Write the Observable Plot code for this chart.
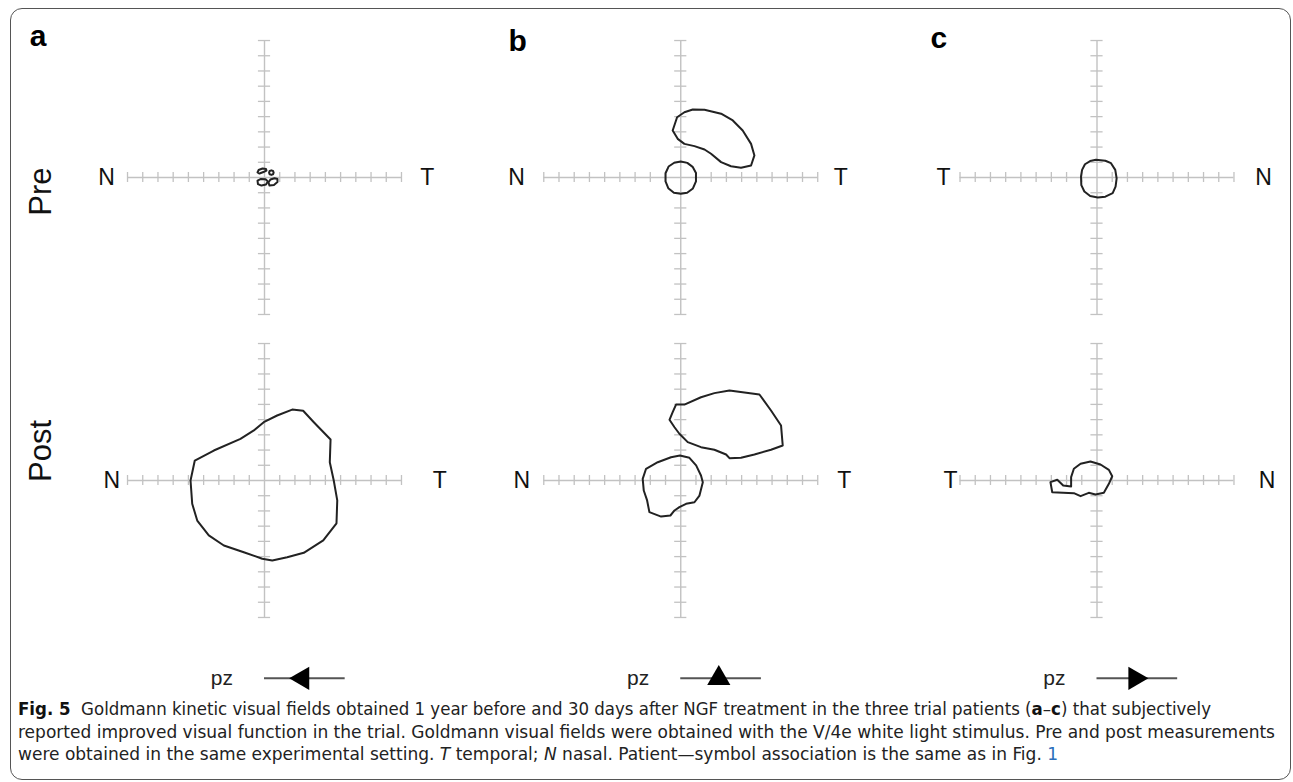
<!DOCTYPE html>
<html><head><meta charset="utf-8">
<script src="https://cdn.jsdelivr.net/npm/d3@7"></script>
<script src="https://cdn.jsdelivr.net/npm/@observablehq/plot@0.6"></script>
<style>
body{margin:0;background:#fff;}
#wrap{position:relative;width:1293px;height:782px;overflow:hidden;background:#fff;}
#frame{position:absolute;left:10px;top:8px;width:1281px;height:772px;border:1.5px solid #555;border-radius:12px;box-sizing:border-box;}
#chart{position:absolute;left:0;top:0;}
#caption{position:absolute;left:18px;top:698px;font-family:"Liberation Sans Narrow","DejaVu Sans Condensed","Roboto",sans-serif;font-size:17px;line-height:22.5px;color:#222;white-space:nowrap;}
#caption .ln{display:inline-block;transform-origin:0 50%;}
#caption b{font-weight:bold;color:#111;}
</style></head>
<body><div id="wrap"><div id="frame"></div><div id="chart"></div>
<div id="caption"><span class="ln" id="ln1"><b>Fig. 5</b>&nbsp; Goldmann kinetic visual fields obtained 1 year before and 30 days after NGF treatment in the three trial patients (<b>a</b>–<b>c</b>) that subjectively</span><br><span class="ln" id="ln2">reported improved visual function in the trial. Goldmann visual fields were obtained with the V/4e white light stimulus. Pre and post measurements</span><br><span class="ln" id="ln3">were obtained in the same experimental setting. <i>T</i> temporal; <i>N</i> nasal. Patient—symbol association is the same as in Fig. <span style="color:#2a6ebb">1</span></span></div>
</div>
<script>
// ---- data (degrees of visual field) ----
const panels = ["a", "b", "c"];
const rows = ["Pre", "Post"];
const sideLabels = {a: ["N", "T"], b: ["N", "T"], c: ["T", "N"]};
const symbolLabel = "pz";
const patientSymbolDir = {a: "left", b: "up", c: "right"};
const tickDegrees = [-90, -80, -70, -60, -50, -40, -30, -20, -10, 10, 20, 30, 40, 50, 60, 70, 80, 90];
const axisMin = -90, axisMax = 90;

// panel a, Pre: four tiny islands
const aPreIsland1 = [[-4.6,3.3],[-3.9,4.9],[-1.3,5.9],[1.0,5.6],[1.3,4.6],[-0.7,3.6],[-3.3,2.6]];
const aPreIsland2 = [[4.5,4.7],[5.6,4.3],[6.0,3.2],[5.6,2.1],[4.5,1.7],[3.4,2.1],[3.0,3.2],[3.4,4.3]];
const aPreIsland3 = [[-4.6,-2.0],[-2.6,-1.0],[0.7,-1.2],[2.2,-2.6],[1.0,-4.6],[-2.0,-5.3],[-4.3,-4.3]];
const aPreIsland4 = [[2.6,-3.3],[3.9,-1.3],[6.6,-0.5],[8.5,-1.0],[8.5,-3.0],[6.2,-4.9],[3.3,-5.3]];
// panel a, Post
const aPostField = [[-0.5,38.3],[8.3,42.7],[18.2,46.6],[25.4,45.8],[32.4,38.3],[43.4,26.9],[42.9,12.0],[45.5,0],[47.8,-13.1],[47.3,-28.1],[38.6,-39.4],[25.8,-47.5],[14.9,-50.4],[5.1,-52.6],[-1.5,-51.4],[-13.6,-47.1],[-26.7,-42.7],[-36.6,-36.1],[-44.2,-26.3],[-47.5,-15.3],[-48.6,0],[-45.8,13.1],[-33.3,19.7],[-15.8,27.4],[-7.0,32.9]];
// panel b, Pre
const bPreCentral = [[0,10.5],[4.3,9.6],[7.8,7.0],[10.0,3.0],[10.0,-2.5],[8.0,-7.2],[4.2,-10.0],[0,-10.7],[-4.5,-10.0],[-8.2,-7.0],[-10.0,-2.6],[-10.0,2.8],[-8.0,7.2],[-4.3,9.7]];
const bPreUpper = [[-5.3,30.9],[-2.4,39.6],[2.4,42.9],[7.9,44.7],[15.6,44.5],[26.5,41.9],[34.2,37.5],[40.7,30.9],[46.2,22.1],[48.4,14.5],[46.2,7.9],[39.6,6.4],[33.0,7.4],[26.5,10.1],[19.9,15.6],[15.6,18.4],[9.0,20.6],[2.4,22.1],[-2.0,25.4]];
// panel b, Post
const bPostUpper = [[-3.1,49.9],[2.4,49.9],[13.3,54.7],[22.1,57.4],[32.0,59.1],[51.7,56.5],[59.3,46.0],[65.9,36.1],[67.0,23.0],[59.3,20.2],[48.4,17.1],[39.6,14.9],[32.0,14.7],[29.8,17.1],[22.1,20.2],[13.3,21.9],[4.6,25.2],[-0.9,30.7],[-4.1,35.0],[-7.4,39.9],[-5.3,44.9]];
const bPostCentral = [[-0.5,16.4],[5.7,14.9],[10.1,9.9],[13.3,3.3],[14.5,-1.1],[12.3,-9.9],[9.0,-14.3],[3.5,-15.3],[-0.9,-17.5],[-4.1,-19.7],[-6.8,-23.0],[-12.9,-23.7],[-20.6,-20.8],[-22.1,-13.1],[-24.3,-6.6],[-25.0,1.1],[-22.8,7.7],[-15.1,12.0],[-6.4,15.3]];
// panel c, Pre
const cPreCentral = [[-0.7,11.6],[5.5,11.0],[9.2,9.4],[12.0,5.0],[12.9,-0.5],[12.2,-6.0],[10.3,-10.3],[5.5,-12.6],[0.5,-13.1],[-4.5,-12.2],[-8.3,-9.2],[-10.3,-5.0],[-10.5,0.7],[-9.8,5.0],[-7.9,8.7],[-4.5,10.8]];
// panel c, Post
const cPostField = [[-10.8,11.0],[-4.3,12.5],[2.3,10.5],[7.8,7.0],[10.0,2.8],[7.8,-2.2],[4.5,-8.1],[-1.0,-9.2],[-5.4,-8.1],[-10.8,-10.3],[-15.2,-8.3],[-29.4,-7.7],[-30.6,-1.1],[-26.1,0.5],[-22.2,-3.3],[-17.0,-3.9],[-17.0,2.2],[-15.2,7.7]];

const fields = [
  {panel: "a", row: "Pre", id: "a1", pts: aPreIsland1},
  {panel: "a", row: "Pre", id: "a2", pts: aPreIsland2},
  {panel: "a", row: "Pre", id: "a3", pts: aPreIsland3},
  {panel: "a", row: "Pre", id: "a4", pts: aPreIsland4},
  {panel: "a", row: "Post", id: "a5", pts: aPostField},
  {panel: "b", row: "Pre", id: "b1", pts: bPreCentral},
  {panel: "b", row: "Pre", id: "b2", pts: bPreUpper},
  {panel: "b", row: "Post", id: "b3", pts: bPostUpper},
  {panel: "b", row: "Post", id: "b4", pts: bPostCentral},
  {panel: "c", row: "Pre", id: "c1", pts: cPreCentral},
  {panel: "c", row: "Post", id: "c2", pts: cPostField}
];

// ---- layout (degrees, relative to each panel's fixation point) ----
const sideLabelX = {
  "a|Pre": [-103.8, 106.9], "b|Pre": [-107.8, 105.1], "c|Pre": [-100.9, 109.4],
  "a|Post": [-100.3, 115.1], "b|Post": [-104.5, 107.4], "c|Post": [-96.3, 111.7]
};
const letterPos = {a: [-154.2, 86.7], b: [-113.2, 83.4], c: [-109.4, 84.8]};
const rowLabelPos = {Pre: -9.2, Post: 19.4};
const symbolY = -130;
const rotateFor = {left: -90, up: 0, right: 90};

const fieldRows = fields.flatMap(f => f.pts.map(([x, y]) => ({panel: f.panel, row: f.row, id: f.id, x, y})));
const sideRows = [];
for (const r of rows) for (const p of panels) {
  sideLabels[p].forEach((t, i) => sideRows.push({panel: p, row: r, text: t, x: sideLabelX[p + "|" + r][i]}));
}

const grey = "#c2c2c2";
const font = "'Liberation Sans', Arial, Helvetica, sans-serif";

const chart = Plot.plot({
  width: 1293,
  height: 700,
  marginLeft: 111.8,
  marginRight: 44.3,
  marginTop: 27.85,
  marginBottom: 70.85,
  style: {background: "transparent", overflow: "visible", fontFamily: font},
  x: {domain: [-100, 100], axis: null},
  y: {domain: [-98, 98], axis: null},
  fx: {domain: panels, paddingInner: 0.2687, paddingOuter: 0, round: false, axis: null},
  fy: {domain: rows, paddingInner: 0.0155, paddingOuter: 0, round: false, axis: null},
  marks: [
    Plot.ruleY([0], {x1: axisMin, x2: axisMax, stroke: grey, strokeWidth: 1.4}),
    Plot.ruleX([0], {y1: axisMin, y2: axisMax, stroke: grey, strokeWidth: 1.4}),
    Plot.ruleX(tickDegrees, {x: d => d, y1: -3.3, y2: 3.3, stroke: grey, strokeWidth: 1.3}),
    Plot.ruleY(tickDegrees, {y: d => d, x1: -4, x2: 4, stroke: grey, strokeWidth: 1.3}),
    Plot.line(fieldRows, {x: "x", y: "y", z: "id", fx: "panel", fy: "row", curve: "linear-closed",
      stroke: "#222", strokeWidth: 2, strokeLinejoin: "round"}),
    Plot.text(sideRows, {x: "x", y: 0, text: "text", fx: "panel", fy: "row", fontSize: 23,
      fill: "#111", textAnchor: "middle", lineAnchor: "middle"}),
    Plot.text(panels, {fx: d => d, fy: () => "Pre", x: d => letterPos[d][0], y: d => letterPos[d][1],
      text: d => d, fontSize: 30, fontWeight: "bold", fill: "#000", textAnchor: "start", lineAnchor: "bottom"}),
    Plot.text(rows, {fx: () => "a", fy: d => d, x: -146.8, y: d => rowLabelPos[d], text: d => d,
      rotate: -90, fontSize: 31, fill: "#111", textAnchor: "middle", lineAnchor: "middle"}),
    Plot.ruleY(panels, {fx: d => d, fy: () => "Post", y: symbolY, x1: 0, x2: 53, stroke: "#555", strokeWidth: 2}),
    Plot.dot(panels, {fx: d => d, fy: () => "Post", x: 25, y: symbolY, symbol: "triangle", r: 8.6,
      fill: "#000", stroke: "none", rotate: d => rotateFor[patientSymbolDir[d]]}),
    Plot.text(panels, {fx: d => d, fy: () => "Post", x: -28, y: symbolY, text: () => symbolLabel,
      fontSize: 21, fill: "#222", textAnchor: "middle", lineAnchor: "middle"})
  ]
});
document.getElementById("chart").appendChild(chart);

// fit caption lines to the reference line lengths (condensed caption face)
const s2 = 1257 / document.getElementById("ln2").getBoundingClientRect().width;
const s1 = 1193 / document.getElementById("ln1").getBoundingClientRect().width;
document.getElementById("ln1").style.transform = `scaleX(${s1})`;
document.getElementById("ln2").style.transform = `scaleX(${s2})`;
document.getElementById("ln3").style.transform = `scaleX(${s2})`;
</script>
</body></html>
